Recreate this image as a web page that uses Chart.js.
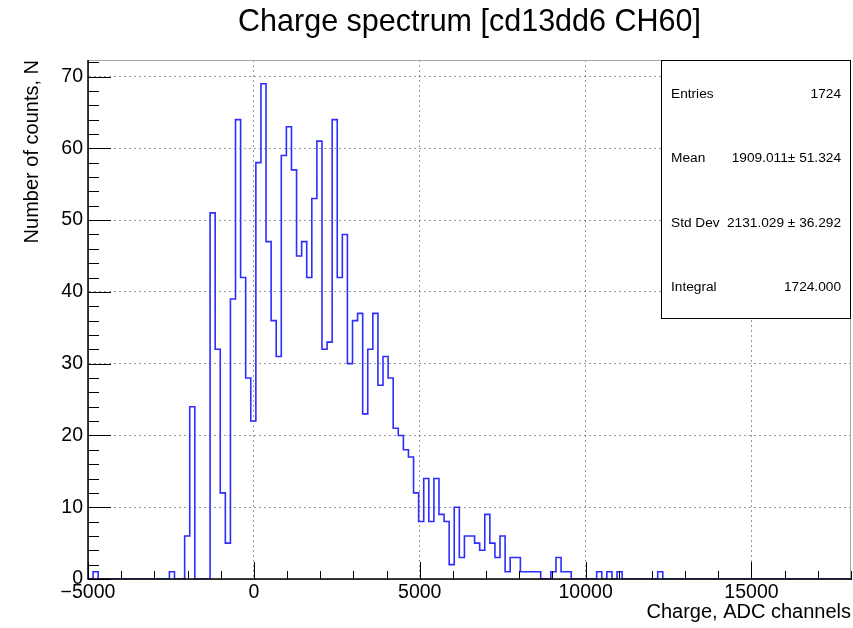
<!DOCTYPE html>
<html>
<head>
<meta charset="utf-8">
<title>Charge spectrum</title>
<script src="https://cdn.jsdelivr.net/npm/chart.js@4.4.1/dist/chart.umd.min.js"></script>
<style>
  html, body { margin: 0; padding: 0; background: #fff; }
</style>
</head>
<body>
<canvas id="spectrum" width="853" height="628"></canvas>
<script>
// histogram binning (150 bins from -5000 to 18000)
const binLow = -5000;
const binHigh = 18000;
const nBins = 150;

// counts per bin
const counts = [
  0, 1, 0, 0, 0, 0, 0, 0, 0, 0,
  0, 0, 0, 0, 0, 0, 1, 0, 0, 6,
  24, 0, 0, 0, 51, 32, 12, 5, 39, 64,
  42, 28, 22, 58, 69, 47, 36, 31, 59, 63,
  57, 45, 47, 42, 53, 61, 32, 33, 64, 42,
  48, 30, 36, 37, 23, 32, 37, 27, 31, 28,
  21, 20, 18, 17, 12, 8, 14, 8, 14, 9,
  8, 2, 10, 3, 6, 6, 5, 4, 9, 5,
  3, 6, 1, 3, 3, 1, 1, 1, 1, 0,
  0, 1, 3, 1, 1, 0, 0, 0, 0, 0,
  1, 0, 1, 0, 1, 0, 0, 0, 0, 0,
  0, 0, 1, 0, 0, 0, 0, 0, 0, 0,
  0, 0, 0, 0, 0, 0, 0, 0, 0, 0,
  0, 0, 0, 0, 0, 0, 0, 0, 0, 0,
  0, 0, 0, 0, 0, 0, 0, 0, 0, 0
];

const xTicks = [-5000, 0, 5000, 10000, 15000];
const yTicks = [0, 10, 20, 30, 40, 50, 60, 70];
const yMax = 72.3;

const statLabels = ["Entries", "Mean", "Std Dev", "Integral"];
const statValues = ["1724", "1909.011\u00b1 51.324", "2131.029 \u00b1 36.292", "1724.000"];

const FONT = "'Liberation Sans', Arial, Helvetica, sans-serif";

const binWidth = (binHigh - binLow) / nBins;
const points = counts.map((c, i) => ({ x: binLow + i * binWidth, y: c }));
points.push({ x: binHigh, y: 0 });

// ROOT-like frame, inner ticks and the stats box
const rootFrame = {
  id: "rootFrame",
  afterDatasetsDraw(chart) {
    const { ctx, chartArea: a, scales: { x, y } } = chart;
    ctx.save();

    ctx.strokeStyle = "#a8a8a8";
    ctx.lineWidth = 1;
    ctx.strokeRect(a.left + 0.5, a.top + 0.5, a.right - a.left - 1, a.bottom - a.top);

    ctx.strokeStyle = "#000";
    ctx.lineWidth = 1.5;
    ctx.beginPath();
    ctx.moveTo(a.left, a.top);
    ctx.lineTo(a.left, a.bottom);
    ctx.lineTo(a.right, a.bottom);
    ctx.stroke();

    ctx.lineWidth = 1;
    ctx.beginPath();
    for (let v = binLow; v <= binHigh; v += 1000) {
      const px = Math.round(x.getPixelForValue(v)) + 0.5;
      const len = xTicks.includes(v) ? 17 : 8;
      ctx.moveTo(px, a.bottom);
      ctx.lineTo(px, a.bottom - len);
    }
    for (let v = 0; v <= yMax; v += 2) {
      const py = Math.round(y.getPixelForValue(v)) + 0.5;
      const len = v % 10 === 0 ? 23 : 11;
      ctx.moveTo(a.left, py);
      ctx.lineTo(a.left + len, py);
    }
    ctx.stroke();

    // stats box
    const bx = 661, by = a.top, bw = a.right - bx, bh = 318 - a.top;
    ctx.fillStyle = "#fff";
    ctx.fillRect(bx, by, bw, bh);
    ctx.strokeStyle = "#000";
    ctx.strokeRect(bx + 0.5, by + 0.5, bw - 1, bh);
    ctx.fillStyle = "#000";
    ctx.font = "13.7px " + FONT;
    ctx.textBaseline = "middle";
    const rowH = bh / statLabels.length;
    statLabels.forEach((lab, i) => {
      const ty = by + rowH * (i + 0.5) + 1.5;
      ctx.textAlign = "left";
      ctx.fillText(lab, bx + 10, ty);
      ctx.textAlign = "right";
      ctx.fillText(statValues[i], a.right - 10, ty);
    });
    ctx.restore();
  }
};

const gridStyle = { color: "rgba(0,0,0,0.4)", lineWidth: 1, drawTicks: false };
const borderStyle = { display: true, color: "#000", width: 1, dash: [2, 3] };

new Chart(document.getElementById("spectrum"), {
  type: "line",
  data: {
    datasets: [{
      data: points,
      stepped: "before",
      borderColor: "rgb(45,45,255)",
      borderWidth: 1.6,
      pointRadius: 0,
      fill: false
    }]
  },
  options: {
    responsive: false,
    devicePixelRatio: 1,
    animation: false,
    layout: { padding: { top: 0, right: 2, bottom: 0, left: 0 } },
    plugins: {
      legend: { display: false },
      tooltip: { enabled: false },
      title: {
        display: true,
        text: "Charge spectrum [cd13dd6 CH60]",
        fullSize: false,
        color: "#000",
        font: { family: FONT, size: 30.5, weight: "normal" },
        padding: { top: 4, bottom: 19.4 }
      }
    },
    scales: {
      x: {
        type: "linear",
        min: binLow,
        max: binHigh,
        afterBuildTicks: s => { s.ticks = xTicks.map(v => ({ value: v })); },
        afterFit: s => { s.height = 49; },
        ticks: {
          color: "#000",
          font: { family: FONT, size: 19.5 },
          padding: 2,
          maxRotation: 0,
          autoSkip: false,
          callback: v => (v < 0 ? "\u2212" + Math.abs(v) : String(v))
        },
        grid: gridStyle,
        border: borderStyle,
        title: {
          display: true,
          text: "Charge, ADC channels",
          align: "end",
          color: "#000",
          font: { family: FONT, size: 20 },
          padding: { top: 0, bottom: 4 }
        }
      },
      y: {
        min: 0,
        max: yMax,
        afterBuildTicks: s => { s.ticks = yTicks.map(v => ({ value: v })); },
        afterFit: s => { s.width = 88; },
        ticks: {
          color: "#000",
          font: { family: FONT, size: 19.5 },
          padding: 5
        },
        grid: gridStyle,
        border: borderStyle,
        title: {
          display: true,
          text: "Number of counts, N",
          align: "end",
          color: "#000",
          font: { family: FONT, size: 20 },
          padding: { top: 20, bottom: 0 }
        }
      }
    }
  },
  plugins: [rootFrame]
});
</script>
</body>
</html>
